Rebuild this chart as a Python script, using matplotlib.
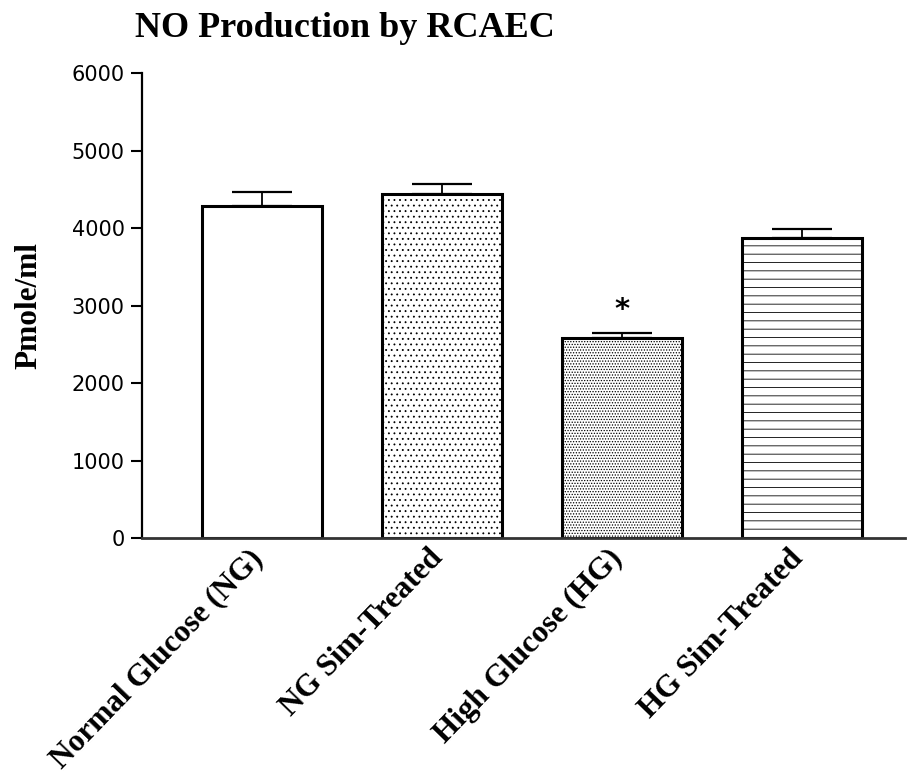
import numpy as np
import matplotlib
matplotlib.use("Agg")
import matplotlib.pyplot as plt
import matplotlib.transforms as mtransforms

# data
groups = ["Normal Glucose (NG)", "NG Sim-Treated", "High Glucose (HG)", "HG Sim-Treated"]
means = [4290, 4445, 2585, 3875]
sem = [175, 130, 65, 110]
hatches = ["", "...", "......", "--"]
y_ticks = [0, 1000, 2000, 3000, 4000, 5000, 6000]

plt.rcParams['hatch.linewidth'] = 0.6

fig = plt.figure(figsize=(9.13, 7.80), dpi=100)
ax = fig.add_axes([0.155, 0.31, 0.836, 0.596])

x = np.arange(len(groups))
for i in range(len(groups)):
    ax.bar(x[i], means[i], width=0.667, color="white", edgecolor="black",
           linewidth=2.2, hatch=hatches[i], zorder=2)

ax.errorbar(x, means, yerr=[np.zeros(len(sem)), sem], fmt="none",
            ecolor="black", elinewidth=1.3, capsize=21.5, capthick=1.6, zorder=1)

# significance mark over the HG bar
ax.text(x[2], means[2] + sem[2] + 290, "*", ha="center", va="center",
        fontsize=21, fontweight="bold", family="DejaVu Sans")

ax.set_ylim(0, 6000)
ax.set_xlim(-0.667, 3.57)
ax.set_yticks(y_ticks)
ax.set_yticklabels([str(v) for v in y_ticks], family="DejaVu Sans", fontsize=15)
ax.tick_params(axis="y", direction="out", length=8, width=1.5, pad=4)

ax.set_xticks(x)
ax.set_xticklabels(groups, rotation=46, ha="right", va="top", rotation_mode="anchor",
                   family="Liberation Serif", fontweight="bold", fontsize=22.5)
ax.tick_params(axis="x", length=0, pad=4)
shift = mtransforms.ScaledTranslation(-14 / 100, 0, fig.dpi_scale_trans)
for lab in ax.get_xticklabels():
    lab.set_transform(lab.get_transform() + shift)

ax.spines["top"].set_visible(False)
ax.spines["right"].set_visible(False)
ax.spines["left"].set_linewidth(1.6)
ax.spines["bottom"].set_linewidth(2.0)
ax.spines["bottom"].set_color("#333333")

ax.set_ylabel("Pmole/ml", family="Liberation Serif", fontweight="bold", fontsize=22.5)
ax.yaxis.set_label_coords(-0.128, 0.5)

fig.text(0.148, 0.964, "NO Production by RCAEC", family="Liberation Serif",
         fontweight="bold", fontsize=26, ha="left", va="center")

fig.savefig("out.png", dpi=100)
